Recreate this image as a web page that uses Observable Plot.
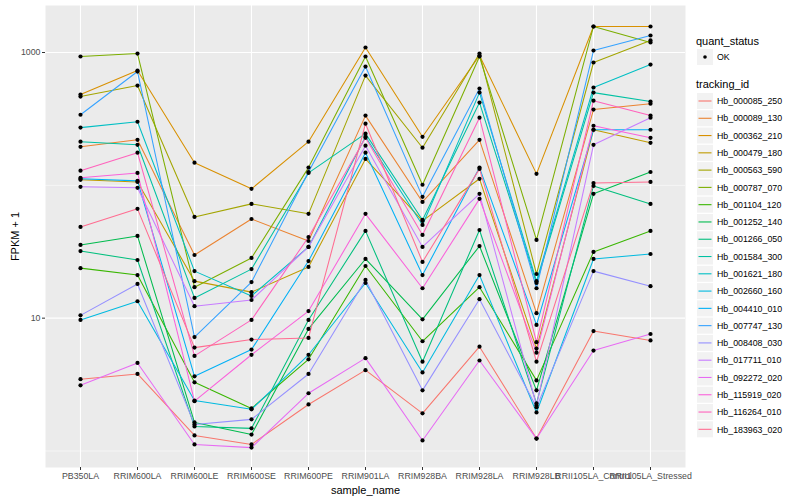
<!DOCTYPE html>
<html><head><meta charset="utf-8">
<script src="https://cdn.jsdelivr.net/npm/d3@7"></script>
<script src="https://cdn.jsdelivr.net/npm/@observablehq/plot@0.6"></script>
<style>
body{margin:0;background:#fff;font-family:"Liberation Sans",Arial,sans-serif;}
#wrap{position:relative;width:800px;height:500px;overflow:hidden;}
#chart{position:absolute;left:0;top:0;}
#legend{position:absolute;left:690px;top:0;}
</style></head><body><div id="wrap"><div id="chart"></div><div id="legend"></div></div>
<script>
const samples = ["PB350LA","RRIM600LA","RRIM600LE","RRIM600SE","RRIM600PE","RRIM901LA","RRIM928BA","RRIM928LA","RRIM928LB","RRII105LA_Control","RRII105LA_Stressed"];
const trackingIds = ["Hb_000085_250","Hb_000089_130","Hb_000362_210","Hb_000479_180","Hb_000563_590","Hb_000787_070","Hb_001104_120","Hb_001252_140","Hb_001266_050","Hb_001584_300","Hb_001621_180","Hb_002660_160","Hb_004410_010","Hb_007747_130","Hb_008408_030","Hb_017711_010","Hb_092272_020","Hb_115919_020","Hb_116264_010","Hb_183963_020"];
const quantStatus = ["OK"];

// FPKM + 1 per sample, in the order of `samples`
const hb_000085_250 = [3.47, 3.8, 1.31, 1.12, 2.24, 4.06, 1.92, 6.1, 1.24, 8.0, 6.8];
const hb_000089_130 = [195, 220, 29.9, 55.8, 38.1, 335, 75.0, 220, 10.9, 372, 412];
const hb_000362_210 = [482, 731, 148, 94.1, 213, 1091, 232, 949, 122, 1570, 1570];
const hb_000479_180 = [110, 106, 19.0, 15.7, 24.3, 158, 54.0, 112, 5.9, 262, 209];
const hb_000563_590 = [466, 564, 57.8, 72.5, 61.0, 670, 192, 982, 21.5, 841, 1233];
const hb_000787_070 = [933, 982, 17.1, 28.4, 136, 933, 101, 933, 38.8, 1570, 1190];
const hb_001104_120 = [23.8, 21.1, 3.29, 2.09, 4.9, 24.7, 6.7, 17.1, 3.4, 31.5, 45.4];
const hb_001252_140 = [35.6, 41.6, 1.64, 1.33, 8.3, 27.9, 9.8, 34.9, 2.86, 86.3, 126];
const hb_001266_050 = [32.0, 27.4, 1.53, 1.48, 9.7, 45.4, 4.7, 46.1, 2.28, 99, 72.5];
const hb_001584_300 = [213, 202, 14.2, 23.4, 124, 245, 54.9, 420, 18.4, 499, 427];
const hb_001621_180 = [272, 301, 22.6, 14.7, 34.4, 232, 50.3, 499, 19.0, 545, 811];
const hb_002660_160 = [9.7, 13.4, 2.40, 2.06, 5.3, 18.4, 3.9, 21.1, 1.95, 27.9, 30.4];
const hb_004410_010 = [112, 108, 3.65, 5.8, 26.9, 176, 21.1, 136, 8.9, 262, 262];
const hb_007747_130 = [340, 719, 7.2, 18.7, 126, 784, 81.9, 535, 16.8, 1035, 1343];
const hb_008408_030 = [10.5, 18.1, 1.58, 1.73, 3.8, 19.4, 2.86, 13.9, 2.13, 22.6, 17.4];
const hb_017711_010 = [97.5, 95.8, 12.3, 13.7, 34.4, 199, 34.4, 86.3, 2.2, 202, 323];
const hb_092272_020 = [3.12, 4.6, 1.12, 1.06, 2.72, 5.0, 1.20, 4.8, 1.24, 5.7, 7.6];
const hb_115919_020 = [114, 124, 2.37, 5.3, 11.3, 61.0, 16.8, 79.1, 5.5, 281, 228];
const hb_116264_010 = [129, 176, 5.2, 9.7, 40.8, 228, 42.3, 323, 6.6, 434, 335];
const hb_183963_020 = [48.6, 66.5, 6.0, 6.9, 7.1, 291, 26.5, 133, 4.7, 104, 106];

const seriesValues = [hb_000085_250, hb_000089_130, hb_000362_210, hb_000479_180, hb_000563_590, hb_000787_070, hb_001104_120, hb_001252_140, hb_001266_050, hb_001584_300, hb_001621_180, hb_002660_160, hb_004410_010, hb_007747_130, hb_008408_030, hb_017711_010, hb_092272_020, hb_115919_020, hb_116264_010, hb_183963_020];

const palette = ["#F8766D","#EA8331","#D89000","#C09B00","#A3A500","#7CAE00","#39B600","#00BB4E","#00BF7D","#00C1A3","#00BFC4","#00BAE0","#00B0F6","#35A2FF","#9590FF","#C77CFF","#E76BF3","#FA62DB","#FF62BC","#FF6C91"];

const rows = [];
trackingIds.forEach((id, i) => {
  seriesValues[i].forEach((v, j) => rows.push({id, sample: samples[j], value: v, status: quantStatus[0]}));
});

const chart = Plot.plot({
  width: 700, height: 500,
  marginLeft: 45, marginRight: 15, marginTop: 5, marginBottom: 33,
  style: {fontFamily: "'Liberation Sans', Arial, sans-serif", fontSize: "8.8px", background: "transparent", color: "#4D4D4D", overflow: "visible"},
  x: {type: "point", domain: samples, padding: 0.6, label: "sample_name"},
  y: {type: "log", domain: [0.751, 2259], label: "FPKM + 1"},
  color: {domain: trackingIds, range: palette},
  marks: [
    Plot.frame({fill: "#EBEBEB", stroke: "none"}),
    Plot.gridY([1, 100], {stroke: "white", strokeOpacity: 1, strokeWidth: 0.55}),
    Plot.gridY([10, 1000], {stroke: "white", strokeOpacity: 1, strokeWidth: 1.1}),
    Plot.gridX(samples, {stroke: "white", strokeOpacity: 1, strokeWidth: 1.1}),
    Plot.axisY([10, 1000], {tickSize: 3, tickPadding: 2, tickFormat: d => String(d), label: "FPKM + 1", labelAnchor: "center", labelArrow: "none", labelOffset: 34, stroke: "#333"}),
    Plot.axisX({tickSize: 3, tickPadding: 2, label: "sample_name", labelAnchor: "center", labelArrow: "none", labelOffset: 26, stroke: "#333"}),
    Plot.line(rows, {x: "sample", y: "value", z: "id", stroke: "id", strokeWidth: 1.05}),
    Plot.dot(rows, {x: "sample", y: "value", r: 2.1, fill: "black", stroke: "none"})
  ]
});
document.getElementById("chart").appendChild(chart);
const c = d3.select(chart);
c.selectAll('g[aria-label="x-axis label"], g[aria-label="y-axis label"]').attr("font-size", 11).attr("fill", "black");
c.selectAll('g[aria-label="x-axis tick label"], g[aria-label="y-axis tick label"]').attr("fill", "#4D4D4D");

// legend (ggplot-style, right side)
const lg = d3.select("#legend").append("svg").attr("width", 110).attr("height", 500)
  .style("font-family", "'Liberation Sans', Arial, sans-serif");
lg.append("text").attr("x", 6).attr("y", 45).attr("font-size", 11).attr("fill", "black").text("quant_status");
lg.append("rect").attr("x", 7).attr("y", 49).attr("width", 16).attr("height", 16).attr("fill", "#F2F2F2");
lg.append("circle").attr("cx", 15).attr("cy", 57).attr("r", 1.8).attr("fill", "black");
lg.append("text").attr("x", 27).attr("y", 60.2).attr("font-size", 8.8).attr("fill", "black").text(quantStatus[0]);
lg.append("text").attr("x", 6).attr("y", 88).attr("font-size", 11).attr("fill", "black").text("tracking_id");
trackingIds.forEach((id, i) => {
  const cy = 101 + i * 17.28;
  lg.append("rect").attr("x", 7).attr("y", cy - 8).attr("width", 16).attr("height", 16).attr("fill", "#F2F2F2");
  lg.append("line").attr("x1", 8.5).attr("x2", 21.5).attr("y1", cy).attr("y2", cy).attr("stroke", palette[i]).attr("stroke-width", 1.1);
  lg.append("text").attr("x", 27).attr("y", cy + 3.2).attr("font-size", 8.8).attr("fill", "black").text(id);
});
</script>
</body></html>
